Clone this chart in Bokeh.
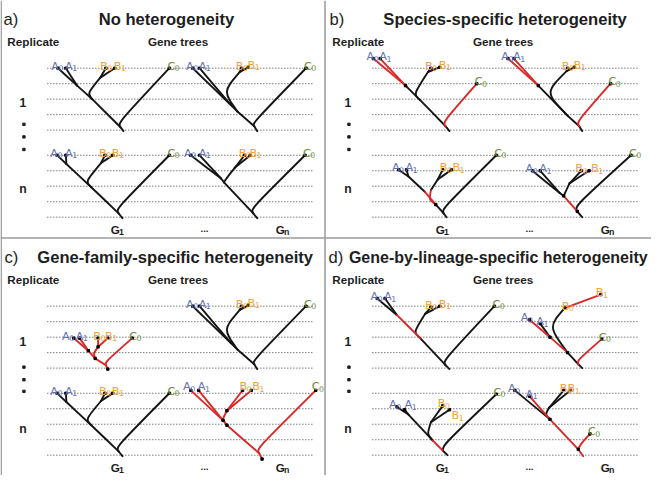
from bokeh.plotting import figure
from bokeh.models import Range1d, ColumnDataSource
from bokeh.core.properties import value
from bokeh.embed import file_html
from bokeh.resources import INLINE

# ---------------- reference geometry (pixels of the 667x491 original) ----------------
W_REF, H_REF = 667, 491
W, H = 651, 475
S = W / W_REF

PANEL_X = [0, 333, 0, 333]
PANEL_Y = [0, 0, 246, 246]
PANEL_TAGS = ["a)", "b)", "c)", "d)"]
PANEL_TAG_X = [3, 4, 4, 3]
PANEL_TITLES = ["No heterogeneity", "Species-specific heterogeneity",
                "Gene-family-specific heterogeneity", "Gene-by-lineage-specific heterogeneity"]
TITLE_CENTER_X = [170, 184, 179, 177]
TITLE_SIZE = [17, 17, 17, 16.4]

GRID_Y = [70, 86, 102, 118, 134, 160, 176, 192, 208, 224]
GRID_X = [48, 320]

REPLICATE_NAMES = ["1", "n"]
REPLICATE_Y = [[105, 195], [105, 195], [106, 197], [106, 197]]
ELLIPSIS_Y = [[128, 141, 154], [128, 141, 154], [133, 146, 158], [133, 146, 158]]
GENE_TREE_SUB = ["1", "n"]
GENE_TREE_X = [113, 282]

LEAVES = ["A0", "A1", "B0", "B1", "C0"]
LEAF_COLOR = {"A": "#6470b4", "B": "#efa43d", "C": "#6f8a3a"}
LABEL_DX = {"A0": -7, "A1": -1, "B0": -6, "B1": -1, "C0": -2}

BLACK = "#151515"
RED = "#dc2828"

STD_EDGES = ["A0>JA", "A1>JA", "B0>JB", "B1>JB", "JA>JAB", "JB>JAB", "JAB>JABC", "C0>JABC", "JABC>R"]

# ---- panel a: no heterogeneity ----
A_G1_REP1 = {"nodes": {"A0": (59, 70), "A1": (67, 70), "B0": (108, 70), "B1": (117, 70), "C0": (173, 70),
                       "JA": (78.5, 88), "JB": (102, 80), "JAB": (94, 102), "JABC": (123, 131), "R": (126, 135)},
             "knees": {"JB>JAB": (89, 96), "C0>JABC": (120, 127)}}
A_GN_REP1 = {"nodes": {"A0": (197, 70), "A1": (204, 70), "B0": (247, 70), "B1": (254, 69), "C0": (313, 70),
                       "JA": (236, 108), "JB": (245, 74), "JAB": (243, 115), "JABC": (260, 130), "R": (263, 135)},
             "knees": {"JB>JAB": (228, 94), "C0>JABC": (258, 127)}}
A_G1_REPN = {"nodes": {"A0": (58, 160), "A1": (67, 160), "B0": (107, 160), "B1": (115, 160), "C0": (173, 160),
                       "JA": (67.5, 169), "JB": (103, 168), "JAB": (93, 193), "JABC": (121, 220), "R": (125, 225)},
             "knees": {"JB>JAB": (87, 187), "C0>JABC": (118, 216)}}
A_GN_REPN = {"nodes": {"A0": (195, 160), "A1": (204, 160), "B0": (250, 160), "B1": (256, 160), "C0": (312, 160),
                       "JA": (226, 184), "JB": (240, 173), "JAB": (229, 188), "JABC": (259, 220), "R": (263, 225)},
             "knees": {"JB>JAB": (231, 184), "C0>JABC": (256, 216)}}

# ---- panel b: species-specific heterogeneity ----
B_G1_REP1 = {"nodes": {"A0": (49, 60), "A1": (56, 60), "B0": (108, 70), "B1": (117, 69), "C0": (155, 86),
                       "JA": (82, 88), "JB": (105, 74), "JAB": (97, 103), "JABC": (123, 130), "R": (127, 135)},
             "red": ["A0>JA", "A1>JA", "C0>JABC"], "dots": ["JA"],
             "knees": {"JB>JAB": (90, 97), "C0>JABC": (120, 126)}}
B_GN_REP1 = {"nodes": {"A0": (187, 60), "A1": (193, 60), "B0": (248, 70), "B1": (255, 69), "C0": (292, 86),
                       "JA": (218, 88), "JB": (247, 73), "JAB": (248, 119), "JABC": (260, 130), "R": (263, 135)},
             "red": ["A0>JA", "A1>JA", "C0>JABC"], "dots": ["JA"],
             "knees": {"JB>JAB": (225, 95), "C0>JABC": (257, 126)}}
B_G1_REPN = {"nodes": {"A0": (75, 175), "A1": (83, 175), "B0": (120, 175), "B1": (129, 175), "C0": (175, 160),
                       "JA": (85, 182), "M": (102, 198), "JB": (115, 185), "MB": (108, 196),
                       "JAB": (113, 211), "JABC": (121, 220), "R": (124, 224)},
             "edges": ["A0>JA", "A1>JA", "JA>M", "M>JAB", "B0>JB", "B1>JB", "JB>MB", "MB>JAB",
                       "JAB>JABC", "C0>JABC", "JABC>R"],
             "red": ["M>JAB", "MB>JAB"], "dots": ["JAB"],
             "knees": {"MB>JAB": (106, 206), "C0>JABC": (119, 216)},
             "dx": {"B0": -3, "B1": 1}}
B_GN_REPN = {"nodes": {"A0": (212, 176), "A1": (220, 176), "B0": (262, 176), "B1": (270, 176), "C0": (313, 160),
                       "JA": (240, 199), "JB": (250, 189), "JAB": (244, 202), "JABC": (258, 218), "R": (263, 224)},
             "red": ["JAB>JABC"], "dots": ["JAB", "JABC"],
             "knees": {"C0>JABC": (255, 213)}, "dx": {"B1": 2}}

# ---- panel c: gene-family-specific heterogeneity ----
C_G1_REP1 = {"nodes": {"A0": (75, 103), "A1": (81, 103), "B0": (100, 103), "B1": (110, 103), "C0": (135, 103),
                       "JA": (90, 116), "JB": (100, 112), "JAB": (97, 124), "JABC": (108, 131), "R": (110, 135)},
             "red": "all", "dots": ["JA", "JB", "JAB", "R"],
             "knees": {"JB>JAB": (95, 119), "C0>JABC": (107, 128)},
             "dx": {"A0": -12, "A1": -4, "B0": -5, "B1": -3, "C0": -3}}
C_GN_REP1 = A_GN_REP1
C_G1_REPN = A_G1_REPN
C_GN_REPN = {"nodes": {"A0": (195, 157), "A1": (203, 157), "B0": (248, 157), "B1": (257, 157), "C0": (323, 157),
                       "JA": (228, 188), "JB": (232, 178), "JAB": (232, 193), "JABC": (265, 222), "R": (268, 228)},
             "red": "all", "dots": ["JA", "JB", "JAB", "R"],
             "knees": {"JB>JAB": (227, 187), "C0>JABC": (262, 218)},
             "dx": {"A0": -8, "A1": -1, "B0": -3, "B1": 1, "C0": -4}, "dy": -4}

# ---- panel d: gene-by-lineage-specific heterogeneity ----
D_G1_REP1 = {"nodes": {"A0": (53, 62), "A1": (61, 62), "B0": (108, 71), "B1": (117, 70), "C0": (173, 70),
                       "JA": (73, 79), "JB": (102, 78), "JAB": (97, 103), "JABC": (123, 131), "R": (127, 135)},
             "red": ["JA>JAB"],
             "knees": {"JB>JAB": (90, 97), "C0>JABC": (120, 127)}}
D_GN_REP1 = {"nodes": {"A0": (209, 84), "A1": (220, 88), "B0": (245, 72), "B1": (282, 58), "C0": (283, 104),
                       "JA": (230, 102), "JB": (245, 72), "JAB": (248, 118), "JABC": (259, 130), "R": (263, 134)},
             "edges": ["A0>JA", "A1>JA", "JA>JAB", "B1>JB", "JB>JAB", "JAB>JABC", "C0>JABC", "JABC>R"],
             "red": ["A0>JA", "JA>JAB", "B1>JB", "C0>JABC"], "dots": ["JA", "JAB"],
             "knees": {"JB>JAB": (228.5, 91), "C0>JABC": (258, 126)},
             "dx": {"A0": -9, "A1": -4, "B0": -3, "B1": -5, "C0": -3}}
D_G1_REPN = {"nodes": {"A0": (73, 174), "A1": (81, 177), "B0": (120, 173), "B1": (127, 177), "C0": (175, 161),
                       "JA": (85, 182), "JB": (108, 190), "JAB": (110, 209), "JABC": (120, 219), "R": (125, 224)},
             "red": ["JAB>JABC"],
             "knees": {"JB>JAB": (104, 202), "C0>JABC": (121, 213)},
             "dx": {"A0": -8, "A1": 0, "B0": -5, "B1": 2, "C0": -3},
             "dyleaf": {"A1": -5, "B1": 6}}
D_GN_REPN = {"nodes": {"A0": (194, 157), "A1": (209, 163), "B0": (244, 157), "B1": (251, 157), "C0": (271, 202),
                       "JB": (229, 175), "JAB": (230, 187), "JABC": (259, 218), "R": (264, 225)},
             "edges": ["A0>JAB", "A1>JAB", "B0>JB", "B1>JB", "JB>JAB", "JAB>JABC", "C0>JABC", "JABC>R"],
             "red": ["A1>JAB", "JAB>JABC", "C0>JABC", "JABC>R"], "dots": ["JAB", "JABC"],
             "knees": {"JB>JAB": (225, 182), "C0>JABC": (261, 213)},
             "dx": {"A0": -7, "A1": -4, "B0": -4, "B1": -3, "C0": -2}}

PANEL_TREES = [[A_G1_REP1, A_GN_REP1, A_G1_REPN, A_GN_REPN],
               [B_G1_REP1, B_GN_REP1, B_G1_REPN, B_GN_REPN],
               [C_G1_REP1, C_GN_REP1, C_G1_REPN, C_GN_REPN],
               [D_G1_REP1, D_GN_REP1, D_G1_REPN, D_GN_REPN]]

# ---------------- figure ----------------
p = figure(width=W, height=H, x_range=Range1d(0, W_REF), y_range=Range1d(H_REF, 0),
           x_axis_type=None, y_axis_type=None, output_backend="svg", toolbar_location=None,
           min_border=0, background_fill_color="white", border_fill_color="white")
p.grid.visible = False
p.outline_line_color = None


def fs(px):
    return "%.1fpx" % (px * S)


# panel separators
p.segment(x0=[332.5, 0], y0=[0, 245.5], x1=[332.5, W_REF], y1=[H_REF, 245.5], line_color="#9a9a9a", line_width=1.5)
p.segment(x0=[0.7], y0=[0], x1=[0.7], y1=[H_REF], line_color="#9a9a9a", line_width=1.5)

# dotted time lines
gx0, gy0, gx1, gy1 = [], [], [], []
for px, py in zip(PANEL_X, PANEL_Y):
    for gy in GRID_Y:
        gx0.append(px + GRID_X[0]); gx1.append(px + GRID_X[1])
        gy0.append(py + gy); gy1.append(py + gy)
p.segment(x0=gx0, y0=gy0, x1=gx1, y1=gy1, line_color="#3a3a3a", line_width=1, line_dash="1 2")

# trees
edge_cols = {k: [] for k in ["x0", "y0", "x1", "y1", "cx0", "cy0", "cx1", "cy1", "color"]}
dot_x, dot_y = [], []
lab_x, lab_y, lab_t, lab_c = [], [], [], []
sub_x, sub_y, sub_t, sub_c = [], [], [], []
for pi, trees in enumerate(PANEL_TREES):
    px, py = PANEL_X[pi], PANEL_Y[pi]
    for t in trees:
        nodes = t["nodes"]
        red = t.get("red", [])
        knees = t.get("knees", {})
        for e in t.get("edges", STD_EDGES):
            a, b = e.split(">")
            (xa, ya), (xb, yb) = nodes[a], nodes[b]
            kx, ky = knees.get(e, ((xa + xb) / 2, (ya + yb) / 2))
            edge_cols["x0"].append(px + xa); edge_cols["y0"].append(py + ya)
            edge_cols["x1"].append(px + xb); edge_cols["y1"].append(py + yb)
            edge_cols["cx0"].append(px + kx); edge_cols["cy0"].append(py + ky)
            edge_cols["cx1"].append(px + kx); edge_cols["cy1"].append(py + ky)
            edge_cols["color"].append(RED if (red == "all" or e in red) else BLACK)
        for leaf in LEAVES:
            lx, ly = nodes[leaf]
            dot_x.append(px + lx); dot_y.append(py + ly)
            dx = t.get("dx", {}).get(leaf, LABEL_DX[leaf])
            dy = t.get("dyleaf", {}).get(leaf, t.get("dy", -2))
            lab_x.append(px + lx + dx); lab_y.append(py + ly + dy)
            lab_t.append(leaf[0]); lab_c.append(LEAF_COLOR[leaf[0]])
            sub_x.append(px + lx + dx + 7.4); sub_y.append(py + ly + dy + 2.2)
            sub_t.append(leaf[1]); sub_c.append(LEAF_COLOR[leaf[0]])
        for d in t.get("dots", []):
            dot_x.append(px + nodes[d][0]); dot_y.append(py + nodes[d][1])

# draw black first, red on top
order = sorted(range(len(edge_cols["color"])), key=lambda i: edge_cols["color"][i] == RED)
src = ColumnDataSource({k: [v[i] for i in order] for k, v in edge_cols.items()})
p.bezier(x0="x0", y0="y0", x1="x1", y1="y1", cx0="cx0", cy0="cy0", cx1="cx1", cy1="cy1",
         source=src, line_color="color", line_width=1.9, line_cap="round")
p.scatter(x=dot_x, y=dot_y, size=2.4, marker="square", color="#000000")

p.text(x=lab_x, y=lab_y, text=lab_t, text_color=lab_c, text_font=value("DejaVu Sans"),
       text_font_size=fs(11.5), text_baseline="alphabetic", text_align="left")
p.text(x=sub_x, y=sub_y, text=sub_t, text_color=sub_c, text_font=value("DejaVu Sans"),
       text_font_size=fs(8), text_baseline="alphabetic", text_align="left")

# panel texts
HEAD = "#1e1e1e"
p.text(x=[px + tx for px, tx in zip(PANEL_X, PANEL_TAG_X)], y=[py + 20 for py in PANEL_Y], text=PANEL_TAGS,
       text_font=value("Liberation Sans"), text_font_size=fs(17), text_color=HEAD,
       text_baseline="alphabetic", text_align="left")
for i in range(4):
    p.text(x=[PANEL_X[i] + TITLE_CENTER_X[i]], y=[PANEL_Y[i] + 20], text=[PANEL_TITLES[i]],
           text_font=value("Liberation Sans"), text_font_size=fs(TITLE_SIZE[i]), text_font_style="bold",
           text_color=HEAD, text_baseline="alphabetic", text_align="center")
p.text(x=[px + 7 for px in PANEL_X] + [px + 151 for px in PANEL_X], y=[py + 42 for py in PANEL_Y] * 2,
       text=["Replicate"] * 4 + ["Gene trees"] * 4,
       text_font=value("Liberation Sans"), text_font_size=fs(12), text_font_style="bold", text_color=HEAD,
       text_baseline="alphabetic", text_align="left")

rx, ry, rt = [], [], []
ex, ey = [], []
gx, gy, sx, sy, st, dxs, dys = [], [], [], [], [], [], []
for pi in range(4):
    px, py = PANEL_X[pi], PANEL_Y[pi]
    for name, yy in zip(REPLICATE_NAMES, REPLICATE_Y[pi]):
        rx.append(px + 23); ry.append(py + yy); rt.append(name)
    for yy in ELLIPSIS_Y[pi]:
        ex.append(px + 24); ey.append(py + yy)
    for sub, xx in zip(GENE_TREE_SUB, GENE_TREE_X):
        gx.append(px + xx); gy.append(py + 237)
        sx.append(px + xx + 8.5); sy.append(py + 239); st.append(sub)
    dxs.append(px + 209); dys.append(py + 236)

p.text(x=rx, y=ry, text=rt, text_font=value("Liberation Sans"), text_font_size=fs(12.5),
       text_font_style="bold", text_color=HEAD, text_baseline="alphabetic", text_align="center")
p.scatter(x=ex, y=ey, size=2.4, marker="square", color=HEAD)
p.text(x=gx, y=gy, text=["G"] * len(gx),
       text_font=value("Liberation Sans"), text_font_size=fs(12), text_font_style="bold", text_color=HEAD,
       text_baseline="alphabetic", text_align="left")
p.text(x=dxs, y=dys, text=["..."] * len(dxs),
       text_font=value("Liberation Sans"), text_font_size=fs(10), text_font_style="bold", text_color=HEAD,
       text_baseline="alphabetic", text_align="center")
p.text(x=sx, y=sy, text=st, text_font=value("Liberation Sans"), text_font_size=fs(9),
       text_font_style="bold", text_color=HEAD, text_baseline="alphabetic", text_align="left")

open("out.html", "w").write(file_html(p, INLINE))
